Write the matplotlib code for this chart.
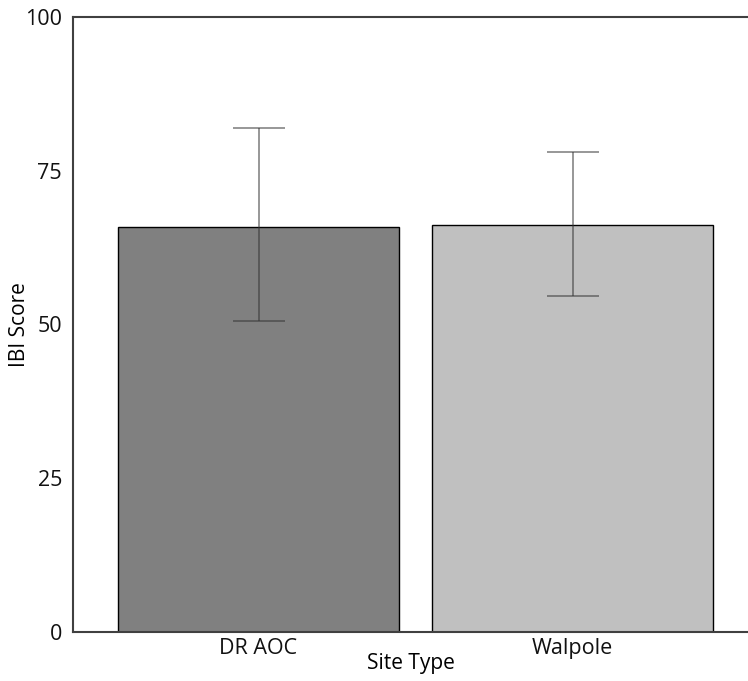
import matplotlib
matplotlib.use('Agg')
import matplotlib.pyplot as plt

# data
sites = ['DR AOC', 'Walpole']
ibi_mean = [65.9, 66.2]
ibi_upper = [82.0, 78.0]
ibi_lower = [50.5, 54.6]
bar_colors = ['#808080', '#c0c0c0']

plt.rcParams['font.family'] = ['Open Sans', 'DejaVu Sans']

fig = plt.figure(figsize=(7.48, 6.81), dpi=100)
ax = fig.add_axes([73 / 748, 1 - 632 / 681, 675 / 748, 615 / 681])

x = list(range(len(sites)))
err = [[m - lo for m, lo in zip(ibi_mean, ibi_lower)],
       [hi - m for m, hi in zip(ibi_mean, ibi_upper)]]

ax.bar(x, ibi_mean, width=0.895, color=bar_colors, edgecolor='black', linewidth=1, zorder=2)
ax.errorbar(x, ibi_mean, yerr=err, fmt='none', ecolor='#333333', alpha=0.55,
            elinewidth=1.3, capsize=19, capthick=1.3, zorder=3)

ax.set_xlim(-0.591, 1.559)
ax.set_ylim(0, 100)
ax.set_yticks([0, 25, 50, 75, 100])
ax.set_xticks(x)
ax.set_xticklabels(sites)
ax.tick_params(axis='both', length=0, labelsize=15.5, colors='#111111')
ax.tick_params(axis='y', pad=8)
ax.tick_params(axis='x', pad=4)

for side in ['left', 'top', 'bottom']:
    ax.spines[side].set_color('#404040')
    ax.spines[side].set_linewidth(1.5)
ax.spines['right'].set_visible(False)

ax.set_ylabel('IBI Score', fontsize=15)
ax.yaxis.set_label_coords(-0.064, 0.5)
ax.set_xlabel('Site Type', fontsize=15, labelpad=-4)

fig.savefig('out.png', dpi=100)
